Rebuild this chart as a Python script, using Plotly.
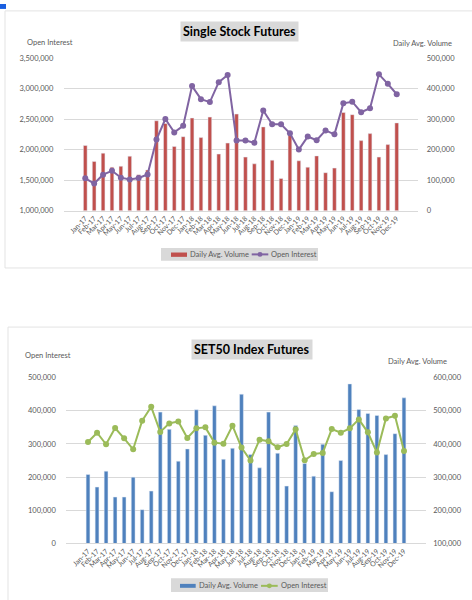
import plotly.graph_objects as go

months = ["Jan-17","Feb-17","Mar-17","Apr-17","May-17","Jun-17","Jul-17","Aug-17","Sep-17","Oct-17","Nov-17","Dec-17",
          "Jan-18","Feb-18","Mar-18","Apr-18","May-18","Jun-18","Jul-18","Aug-18","Sep-18","Oct-18","Nov-18","Dec-18",
          "Jan-19","Feb-19","Mar-19","Apr-19","May-19","Jun-19","Jul-19","Aug-19","Sep-19","Oct-19","Nov-19","Dec-19"]

# Single Stock Futures
ssf_volume = [214000,162000,189000,143000,146000,179000,118000,134000,295000,286000,211000,243000,
              304000,240000,307000,186000,222000,317000,176000,154000,275000,166000,106000,256000,
              164000,143000,180000,125000,140000,322000,315000,230000,253000,176000,217000,288000]
ssf_oi = [1533000,1448000,1592000,1656000,1544000,1512000,1539000,1597000,2168000,2504000,2285000,2392000,
          3043000,2829000,2781000,3107000,3224000,2152000,2152000,2115000,2643000,2419000,2419000,2269000,
          2003000,2216000,2157000,2317000,2253000,2760000,2787000,2616000,2680000,3235000,3080000,2909000]

# SET50 Index Futures
set50_volume = [308000,270000,318000,240000,240000,300000,202000,258000,496000,444000,348000,385000,
                503000,426000,515000,354000,387000,550000,368000,328000,496000,372000,273000,456000,
                341000,303000,399000,256000,350000,581000,504000,492000,486000,368000,431000,539000]
set50_oi = [306000,334000,299000,348000,317000,284000,370000,412000,336000,362000,368000,318000,
            347000,350000,304000,301000,355000,289000,250000,313000,308000,290000,300000,344000,
            251000,270000,273000,345000,334000,347000,374000,335000,274000,377000,385000,279000]

W, H = 472, 600
GRAY = "#595959"
GRID = "#d9d9d9"
FONT = "Lato"

def px(x):
    return x / W

def py(y):
    return 1 - y / H

fig = go.Figure()

fig.add_trace(go.Bar(x=months, y=ssf_volume, name="Daily Avg. Volume", marker_color="#C0504D",
                     xaxis="x", yaxis="y"))
fig.add_trace(go.Scatter(x=months, y=ssf_oi, name="Open Interest", mode="lines+markers",
                         line=dict(color="#8064A2", width=2), marker=dict(size=6, color="#8064A2"),
                         xaxis="x", yaxis="y2"))

fig.add_trace(go.Bar(x=months, y=set50_volume, name="Daily Avg. Volume", marker_color="#4F81BD",
                     xaxis="x2", yaxis="y3"))
fig.add_trace(go.Scatter(x=months, y=set50_oi, name="Open Interest", mode="lines+markers",
                         line=dict(color="#9BBB59", width=2), marker=dict(size=6, color="#9BBB59"),
                         xaxis="x2", yaxis="y4"))

tickfont = dict(family=FONT, size=7.5, color=GRAY)
xtickfont = dict(family=FONT, size=7, color=GRAY)

common_x = dict(type="category", tickangle=-45, tickfont=xtickfont, showgrid=False,
                showline=True, linecolor=GRID, linewidth=1, ticks="", zeroline=False)

fig.update_layout(
    width=W, height=H,
    margin=dict(l=0, r=0, t=0, b=0),
    paper_bgcolor="white", plot_bgcolor="white",
    bargap=0.58,
    showlegend=False,
    hovermode=False,
    xaxis=dict(domain=[px(63.8), px(418.2)], anchor="y", **common_x),
    yaxis=dict(domain=[py(210), py(55)], anchor="x", side="right", range=[0, 500000], dtick=100000,
               tickformat=",", tickfont=tickfont, showgrid=True, gridcolor=GRID, gridwidth=1,
               zeroline=False, ticks="outside", ticklen=6, tickcolor="rgba(0,0,0,0)"),
    yaxis2=dict(anchor="x", overlaying="y", side="left", range=[1000000, 3500000], dtick=500000,
                tickformat=",", tickfont=tickfont, showgrid=False, zeroline=False,
                ticks="outside", ticklen=8, tickcolor="rgba(0,0,0,0)"),
    xaxis2=dict(domain=[px(66.3), px(425.7)], anchor="y3", **common_x),
    yaxis3=dict(domain=[py(547.7), py(379.3)], anchor="x2", side="right", range=[100000, 600000], dtick=100000,
                tickformat=",", tickfont=tickfont, showgrid=True, gridcolor=GRID, gridwidth=1,
                zeroline=False, ticks="outside", ticklen=5, tickcolor="rgba(0,0,0,0)"),
    yaxis4=dict(anchor="x2", overlaying="y3", side="left", range=[0, 500000], dtick=100000,
                tickformat=",", tickfont=tickfont, showgrid=False, zeroline=False,
                ticks="outside", ticklen=8, tickcolor="rgba(0,0,0,0)"),
)

small = dict(family=FONT, size=7.5, color=GRAY)

shapes = [
    dict(type="rect", xref="paper", yref="paper", x0=px(5), x1=px(480), y0=py(268), y1=py(7),
         line=dict(color="#e3e3e3", width=1), layer="below"),
    dict(type="rect", xref="paper", yref="paper", x0=px(8), x1=px(480), y0=py(610), y1=py(328),
         line=dict(color="#e3e3e3", width=1), layer="below"),
    dict(type="rect", xref="paper", yref="paper", x0=0, x1=px(6), y0=py(5), y1=1,
         line=dict(width=0), fillcolor="#1a5fe0"),
]
ann = []

def add_legend(box, swatch, bar_color, line_seg, line_color, text1_x, text2_x, ymid):
    shapes.append(dict(type="rect", xref="paper", yref="paper", x0=px(box[0]), x1=px(box[1]),
                       y0=py(box[3]), y1=py(box[2]), line=dict(width=0), fillcolor="#d9d9d9"))
    shapes.append(dict(type="rect", xref="paper", yref="paper", x0=px(swatch[0]), x1=px(swatch[1]),
                       y0=py(swatch[3]), y1=py(swatch[2]), line=dict(width=0), fillcolor=bar_color))
    shapes.append(dict(type="line", xref="paper", yref="paper", x0=px(line_seg[0]), x1=px(line_seg[1]),
                       y0=py(ymid), y1=py(ymid), line=dict(color=line_color, width=2)))
    cx = (line_seg[0] + line_seg[1]) / 2
    shapes.append(dict(type="circle", xref="paper", yref="paper", x0=px(cx - 2.5), x1=px(cx + 2.5),
                       y0=py(ymid + 2.5), y1=py(ymid - 2.5), line=dict(width=0), fillcolor=line_color))
    ann.append(dict(text="Daily Avg. Volume", x=px(text1_x), y=py(ymid), xref="paper", yref="paper",
                    showarrow=False, font=small, xanchor="left", yanchor="middle"))
    ann.append(dict(text="Open Interest", x=px(text2_x), y=py(ymid), xref="paper", yref="paper",
                    showarrow=False, font=small, xanchor="left", yanchor="middle"))

add_legend((161, 318, 247.7, 260.7), (171, 187, 252.3, 256.7), "#C0504D", (251.7, 268.3), "#8064A2",
           187.5, 269, 254.2)
add_legend((171, 328, 583, 597), (180, 195.7, 588.7, 592.7), "#4F81BD", (261, 277.7), "#9BBB59",
           196.5, 278.5, 590.7)

fig.update_layout(shapes=shapes)

ann.append(dict(text="<b>Single Stock Futures</b>", x=px(239), y=py(27.5), xref="paper", yref="paper",
                showarrow=False, font=dict(family=FONT, size=12.5, color="black"), bgcolor="#d9d9d9",
                borderpad=2, xanchor="center", yanchor="middle"))
ann.append(dict(text="<b>SET50 Index Futures</b>", x=px(252), y=py(351), xref="paper", yref="paper",
                showarrow=False, font=dict(family=FONT, size=12.5, color="black"), bgcolor="#d9d9d9",
                borderpad=2, xanchor="center", yanchor="middle"))
ann.append(dict(text="Open Interest", x=px(25), y=py(39), xref="paper", yref="paper", showarrow=False,
                font=small, xanchor="left", yanchor="middle"))
ann.append(dict(text="Daily Avg. Volume", x=px(454), y=py(40), xref="paper", yref="paper", showarrow=False,
                font=small, xanchor="right", yanchor="middle"))
ann.append(dict(text="Open Interest", x=px(23), y=py(356.5), xref="paper", yref="paper", showarrow=False,
                font=small, xanchor="left", yanchor="middle"))
ann.append(dict(text="Daily Avg. Volume", x=px(449), y=py(363), xref="paper", yref="paper", showarrow=False,
                font=small, xanchor="right", yanchor="middle"))
fig.update_layout(annotations=ann)

fig.write_html("out.html", config={"displayModeBar": False, "staticPlot": True},
               post_script="document.body.style.margin='0';document.body.style.padding='0';")
